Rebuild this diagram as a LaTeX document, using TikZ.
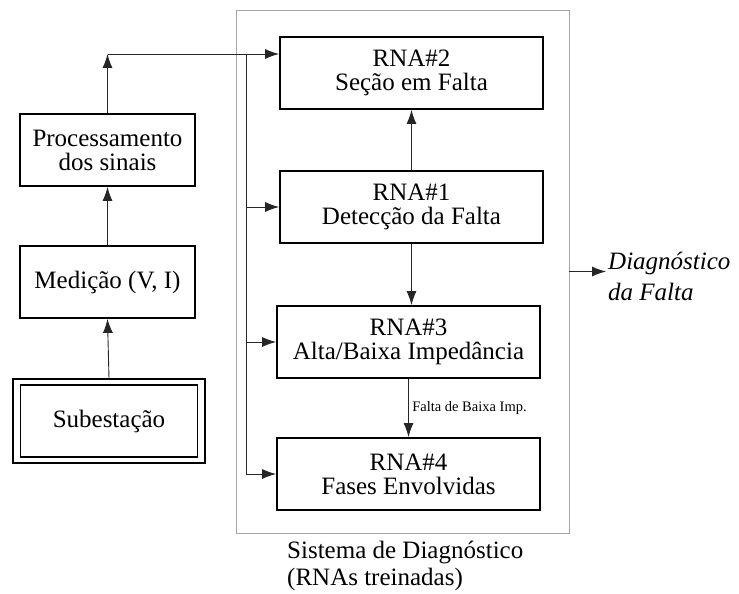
\documentclass[tikz,border=0pt]{standalone}
\usepackage{fontspec}
\setmainfont{Liberation Serif}
\usetikzlibrary{arrows.meta,calc}
\tikzset{
	blk/.style={draw, line width=1.8pt, minimum width=#1, minimum height=72pt, inner sep=0pt, align=center, font=\fontsize{25}{24}\selectfont},
	blk/.default=263pt,
	seta/.style={line width=0.9pt, draw=black!85, arrows={-Latex[length=14pt,width=10pt]}},
	fio/.style={line width=0.9pt, draw=black!85},
}

\begin{document}
\begin{tikzpicture}[x=1pt, y=-1pt]
			%%%%% START %%%%%
			\useasboundingbox (0,0) rectangle (739,594);
			
			\node[draw=black!35, line width=0.7pt, minimum width=333pt, minimum height=523pt] (sys) at (402.5,271.5) {};
			
			\node[blk=175pt] (proc) at (107.5,150) {Processamento\\dos sinais};
			\node[blk=175pt] (med) at (107.5,282) {Medição (V, I)};
			\node[draw, line width=1.2pt, minimum width=192pt, minimum height=84pt] (sub) at (109,421) {};
			\node[blk=177pt] (subin) at (sub.center) {Subestação};
			
			\node[blk] (rna2) at (411.5,73) {RNA\#2\\Seção em Falta};
			\node[blk] (rna1) at (411.5,207) {RNA\#1\\Detecção da Falta};
			\node[blk] (rna3) at (408.5,342) {RNA\#3\\Alta/Baixa Impedância};
			\node[blk] (rna4) at (408.5,474) {RNA\#4\\Fases Envolvidas};
			
			\draw[seta] (sub.north) -- (med.south);
			\draw[seta] (med.north) -- (proc.south);
			
			\coordinate (topo) at (proc.north |- 0,54);
			\coordinate (bus) at (246,54);
			\draw[seta] (proc.north) -- (topo);
			\draw[seta] (topo) -- (topo -| rna2.west);
			\draw[fio] (bus) -- (bus |- rna4.west);
			\foreach \n in {rna1,rna3,rna4}
				\draw[seta] (bus |- \n.west) -- (\n.west);
			
			\draw[seta] (rna1.north) -- (rna1.north |- rna2.south);
			\draw[seta] (rna1.south) -- (rna1.south |- rna3.north);
			\draw[seta] (rna3.south) -- (rna3.south |- rna4.north)
				node[midway, right, font=\fontsize{14.5}{16}\selectfont] {Falta de Baixa Imp.};
			
			\node[anchor=west, align=left, inner sep=2pt, font=\fontsize{25}{31}\selectfont\itshape] (diag) at (606,276) {Diagnóstico\\da Falta};
			\draw[seta] (sys.east) -- (sys.east -| diag.west);
			
			\node[anchor=north west, align=left, inner sep=0pt, font=\fontsize{25}{27}\selectfont] (cap) at (287,541) {Sistema de Diagnóstico\\(RNAs treinadas)};
			%%%%% END %%%%%
\end{tikzpicture}
\end{document}
